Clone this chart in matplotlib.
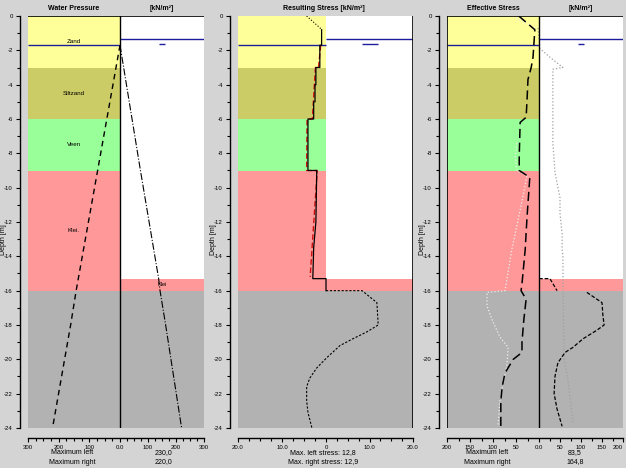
import numpy as np
import matplotlib
matplotlib.use("Agg")
import matplotlib.pyplot as plt

plt.rcParams['font.family'] = ['Liberation Sans', 'DejaVu Sans']
plt.rcParams['axes.unicode_minus'] = False

W, H = 626, 468
BG = '#d4d4d4'
BLUE = '#1c1c9c'

# soil profile (left side of the wall)
layer_tops = [0, -3, -6, -9, -16]
layer_bots = [-3, -6, -9, -16, -24]
layer_colors = ['#ffff99', '#cccc66', '#99ff99', '#ff9999', '#b2b2b2']
layer_names = ['Zand', 'Siltzand', 'Veen', 'Klei.', '']

# right side: excavation down to -15.3
right_tops = [0, -15.3, -16]
right_bots = [-15.3, -16, -24]
right_colors = ['#ffffff', '#ff9999', '#b2b2b2']
right_names = ['', 'Klei', '']

water_left = -1.7
water_right = -1.35
marker_depth = -1.63

# water pressure
wp_left_depth = [-1.7, -3.0, -6.0, -9.0, -16.0, -18.0, -24.0]
wp_left_val = [0, -13, -43, -73, -143, -161, -220]
wp_right_depth = [-1.7, -3.0, -6.0, -9.0, -15.3, -16.0, -18.0, -24.0]
wp_right_val = [0, 13, 43, 73, 138, 143, 163, 220]

# resulting stress
rs_top_depth = [0, -0.8]
rs_top_val = [-4.4, -0.9]
rs_depth = [-0.8, -1.7, -1.7, -3.0, -3.0, -4.0, -4.0, -5.0, -5.0, -6.0, -6.0, -9.0,
            -9.0, -10.5, -12.0, -13.5, -15.3, -15.3, -16.0]
rs_val = [-1.0, -1.0, -1.4, -1.4, -2.3, -2.3, -2.5, -2.5, -2.8, -2.8, -4.1, -4.1,
          -2.1, -2.2, -2.3, -2.8, -3.0, 0.0, 0.0]
rs_red_depth = [-1.7, -3.0, -3.0, -6.0, -6.0, -9.0, -9.0, -15.2]
rs_red_val = [-1.2, -1.7, -2.4, -3.1, -4.3, -4.4, -2.0, -3.6]
rs_low_depth = [-16.0, -16.0, -16.7, -18.0, -18.4, -18.8, -19.2, -19.9, -20.5, -21.1,
                -21.6, -22.4, -23.1, -24.0]
rs_low_val = [0.0, 8.3, 11.7, 12.0, 9.4, 6.2, 3.2, 0.2, -2.1, -3.7, -4.4, -4.4, -4.1, -3.2]

# effective stress
es_left_depth = [0, -0.8, -1.6, -2.4, -3.0, -3.7, -4.9, -5.9, -6.2, -8.2, -9.0, -9.4,
                 -11.7, -13.6, -15.6, -16.0, -16.5, -17.7, -19.0, -19.6, -20.0, -20.8,
                 -21.6, -22.4, -23.9]
es_left_val = [-44, -9, -11, -13, -17, -24, -26, -28, -41, -43, -43, -20, -26, -30, -37,
               -39, -28, -33, -37, -37, -56, -74, -80, -83, -83]
es_left2_depth = [0, -0.7, np.nan, -7.4, -8.2, -9.0, -9.3, -11.3, -13.6, -16.0, -16.1,
                  -16.9, -17.7, -18.7, -19.3, -20.4, -21.4, -22.4, -23.9]
es_left2_val = [-56, -9, np.nan, -48, -52, -48, -26, -41, -59, -74, -113, -113, -102,
                -85, -67, -70, -78, -85, -89]
es_right_depth = [-15.3, -15.3, -16.0, np.nan, -16.1, -16.7, -17.4, -18.0, -18.3, -18.8,
                  -19.3, -19.6, -20.2, -21.0, -22.0, -22.9, -23.9]
es_right_val = [0, 26, 43, np.nan, 114, 150, 152, 155, 138, 105, 81, 62, 45, 38, 36, 43, 55]
es_right2_depth = [-0.7, -1.9, -2.5, -3.0, -3.1, -3.7, -6.0, -7.4, -9.1, -10.6, -11.5,
                   -12.7, -13.6, -14.0, -16.0, -20.0, -21.2, -23.7]
es_right2_val = [-2, 2, 31, 57, 33, 33, 33, 33, 38, 50, 50, 55, 55, 57, 57, 60, 69, 81]


def px(x0, x1, y0, y1):
    return [x0 / W, 1 - y1 / H, (x1 - x0) / W, (y1 - y0) / H]


def split_scale(left_px, right_px, lim):
    kl = left_px / lim
    kr = right_px / lim

    def fwd(x):
        x = np.asarray(x, float)
        return np.where(x < 0, x * kl, x * kr)

    def inv(y):
        y = np.asarray(y, float)
        return np.where(y < 0, y / kl, y / kr)
    return fwd, inv


def make_panel(x0, mid, x1, lim, major, labels, minor, step):
    ax = fig.add_axes(px(x0, x1, 16, 428))
    ax.set_facecolor('none')
    ax.set_xscale('function', functions=split_scale(mid - x0, x1 - mid, lim))
    ax.set_xlim(-lim, lim)
    ax.set_ylim(-24, 0)
    for t, b, c in zip(layer_tops, layer_bots, layer_colors):
        ax.fill_betweenx([t, b], -lim, 0, color=c, lw=0, zorder=0)
    for t, b, c in zip(right_tops, right_bots, right_colors):
        ax.fill_betweenx([t, b], 0, lim, color=c, lw=0, zorder=0)
    ax.hlines(water_left, -lim, 0, color=BLUE, lw=1, zorder=3)
    ax.hlines(water_right, 0, lim, color=BLUE, lw=1, zorder=3)
    ax.plot([lim / 2], [marker_depth], marker='_', ms=step, mew=1, color=BLUE, zorder=3)
    for s in ['top', 'right']:
        ax.spines[s].set_visible(False)
    ax.spines['left'].set_position(('outward', 6))
    ax.spines['bottom'].set_position(('outward', 7))
    ax.spines['left'].set_linewidth(1)
    ax.spines['bottom'].set_linewidth(1)
    ax.set_xticks(major)
    ax.set_xticklabels(labels)
    ax.set_xticks(minor, minor=True)
    ax.set_yticks(np.arange(0, -25, -2))
    ax.set_yticks(np.arange(0, -25, -1), minor=True)
    ax.tick_params(axis='both', which='major', length=3, width=0.8, labelsize=4.3, pad=2)
    ax.tick_params(axis='both', which='minor', length=2, width=0.8)
    ax.set_ylabel('Depth [m]', fontsize=5)
    # label sits about 21 px left of the coloured area, between the -12 and -14 labels
    ax.yaxis.set_label_coords(-21 / (x1 - x0), 11 / 24)
    return ax


fig = plt.figure(figsize=(W / 100, H / 100), dpi=100, facecolor=BG)

# panel 1: water pressure
ax1 = make_panel(28, 120, 204, 300, [-300, -200, -100, 0, 100, 200, 300],
                 ['300', '200', '100', '0.0', '100', '200', '300'],
                 np.arange(-300, 301, 25), 4)
for t, b, n in zip(layer_tops, layer_bots, layer_names):
    ax1.text(-150, (t + b) / 2, n, fontsize=4.5, ha='center', va='center')
for t, b, n in zip(right_tops, right_bots, right_names):
    ax1.text(150, (t + b) / 2, n, fontsize=4, ha='center', va='center')
ax1.plot(wp_left_val, wp_left_depth, color='black', lw=1, ls=(0, (4, 3)), zorder=4)
ax1.plot(wp_right_val, wp_right_depth, color='black', lw=0.8, ls='-.', zorder=4)
ax1.axvline(0, color='black', lw=1, zorder=5)
ax1.axhline(0, color='black', lw=1.2, zorder=5)

# panel 2: resulting stress
ax2 = make_panel(238, 326, 413, 20, [-20, -10, 0, 10, 20],
                 ['20.0', '10.0', '0', '10.0', '20.0'],
                 np.arange(-20, 20.1, 2.5), 11)
ax2.plot(rs_top_val, rs_top_depth, color='black', lw=0.8, ls=':', zorder=4)
ax2.plot(rs_red_val, rs_red_depth, color='#d01010', lw=1, ls=(0, (4, 2)), zorder=4)
ax2.plot(rs_val, rs_depth, color='black', lw=0.9, zorder=5)
ax2.plot(rs_low_val, rs_low_depth, color='black', lw=0.8, ls=(0, (2, 1.5)), zorder=4)
ax2.axvline(20, color='black', lw=1.2, zorder=5)

# panel 3: effective stress
ax3 = make_panel(447, 539, 623, 200, [-200, -150, -100, -50, 0, 50, 100, 150, 200],
                 ['200', '150', '100', '50', '0.0', '50', '100', '150', '200'],
                 np.arange(-200, 201, 25), 4)
ax3.get_xticklabels()[-1].set_horizontalalignment('right')
ax3.plot(es_left2_val, es_left2_depth, color='#eeeeee', lw=0.9, ls=':', zorder=4)
ax3.plot(es_right2_val, es_right2_depth, color='#a0a0a0', lw=0.9, ls=':', zorder=4)
ax3.plot(es_left_val, es_left_depth, color='black', lw=1.1, ls=(0, (6, 3)), zorder=4)
ax3.plot(es_right_val, es_right_depth, color='black', lw=0.9, ls=(0, (3, 1.5)), zorder=4)
ax3.axvline(-200, color='black', lw=1.2, zorder=5)
ax3.axvline(0, color='black', lw=1, zorder=5)
ax3.axhline(0, color='black', lw=1.2, zorder=5)


def ftext(x, y, s, ha='center', **kw):
    fig.text(x / W, 1 - y / H, s, ha=ha, va='center', fontsize=5, **kw)


# headers
ftext(74, 8, 'Water Pressure', weight='bold')
ftext(162, 8, '[kN/m²]', weight='bold')
ftext(324, 8, 'Resulting Stress [kN/m²]', weight='bold')
ftext(493, 8, 'Effective Stress', weight='bold')
ftext(581, 8, '[kN/m²]', weight='bold')

# footer values
ftext(72, 453, 'Maximum left')
ftext(72, 462, 'Maximum right')
ftext(163, 453, '230,0')
ftext(163, 462, '220,0')
ftext(323, 453, 'Max. left stress: 12,8')
ftext(323, 462, 'Max. right stress: 12,9')
ftext(487, 453, 'Maximum left')
ftext(487, 462, 'Maximum right')
ftext(575, 453, '83,5')
ftext(575, 462, '164,8')

fig.savefig('out.png', dpi=100, facecolor=BG)
